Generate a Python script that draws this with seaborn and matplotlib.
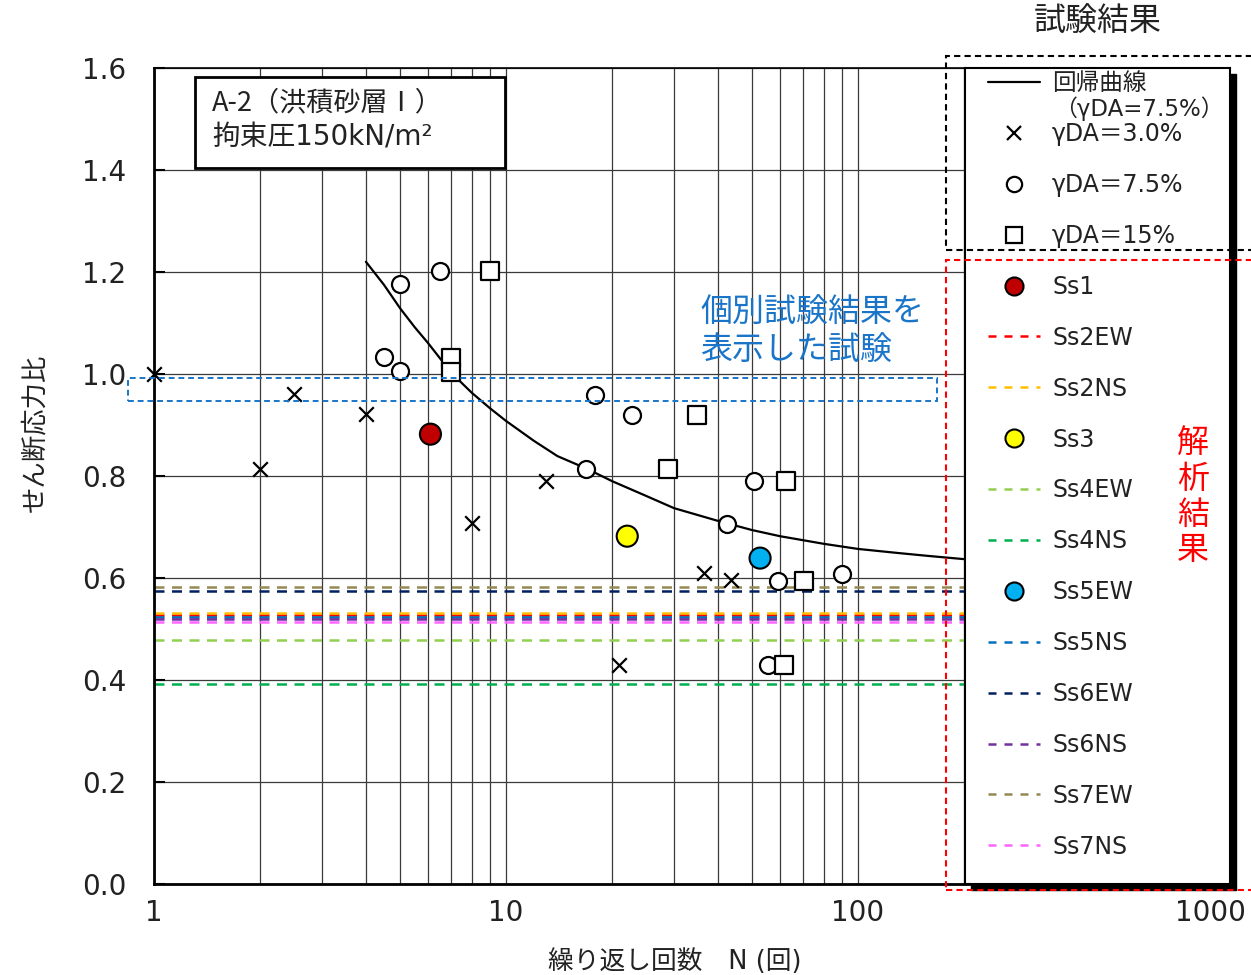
import numpy as np
import pandas as pd
import seaborn as sns
import matplotlib
matplotlib.use("Agg")
import matplotlib.pyplot as plt
from matplotlib.lines import Line2D
from matplotlib.patches import Rectangle
from matplotlib.ticker import FixedLocator, NullFormatter, LogLocator

# ---------------- data ----------------
n_da30 = [1, 2, 2.5, 4, 8, 13, 21, 36.5, 43.5]
r_da30 = [1.00, 0.814, 0.961, 0.922, 0.708, 0.790, 0.429, 0.610, 0.596]

n_da75 = [4.5, 5, 5, 6.5, 16.9, 17.9, 22.8, 42.4, 50.6, 55.5, 59.3, 90]
r_da75 = [1.033, 1.176, 1.006, 1.202, 0.814, 0.959, 0.920, 0.706, 0.790, 0.429, 0.594, 0.608]

n_da15 = [7, 7, 9, 28.9, 34.9, 61.6, 62.4, 70.3]
r_da15 = [1.031, 1.004, 1.202, 0.814, 0.920, 0.429, 0.790, 0.594]

curve_n = [4, 4.5, 5, 5.5, 6, 7, 8, 9, 10, 12, 14, 17, 20, 25, 30, 40, 50, 60, 80,
           100, 130, 160, 200]
curve_r = [1.220, 1.175, 1.129, 1.092, 1.061, 1.002, 0.963, 0.933, 0.908, 0.869, 0.839,
           0.814, 0.790, 0.761, 0.737, 0.712, 0.694, 0.682, 0.667, 0.657, 0.649, 0.643, 0.637]

pt_names = ["Ss1", "Ss3", "Ss5EW"]
pt_n = [6.1, 22.1, 52.7]
pt_r = [0.882, 0.682, 0.639]
pt_colors = ["#C00000", "#FFFF00", "#00B0F0"]

line_names = ["Ss2EW", "Ss2NS", "Ss4EW", "Ss4NS", "Ss5NS", "Ss6EW", "Ss6NS", "Ss7EW", "Ss7NS"]
line_vals = [0.528, 0.532, 0.478, 0.392, 0.524, 0.574, 0.519, 0.583, 0.514]
line_colors = ["#FF0000", "#FFC000", "#92D050", "#00B050", "#0070C0", "#002060",
               "#7030A0", "#948A54", "#FF66FF"]

legend_order = ["Ss1", "Ss2EW", "Ss2NS", "Ss3", "Ss4EW", "Ss4NS", "Ss5EW", "Ss5NS",
                "Ss6EW", "Ss6NS", "Ss7EW", "Ss7NS"]

y_ticks = [0.0, 0.2, 0.4, 0.6, 0.8, 1.0, 1.2, 1.4, 1.6]
x_ticks = [1, 10, 100, 1000]

# ---------------- style ----------------
sns.set_theme(style="white")
FAM = ["DejaVu Sans", "Noto Sans CJK JP"]
CJK_FIRST = ["Noto Sans CJK JP", "DejaVu Sans"]
plt.rcParams["font.family"] = FAM
plt.rcParams["axes.unicode_minus"] = False
TXT = "#222222"

W, H = 1251, 975
fig = plt.figure(figsize=(W / 100, H / 100), dpi=100)
ax = fig.add_axes([154 / W, 1 - 884 / H, (1210 - 154) / W, (884 - 68) / H])
ax.set_facecolor("white")

ax.set_xscale("log")
ax.set_xlim(1, 1000)
ax.set_ylim(0, 1.6)

grid_kw = dict(color="#3a3a3a", lw=0.9)
ax.xaxis.set_major_locator(FixedLocator(x_ticks))
ax.xaxis.set_minor_locator(LogLocator(base=10, subs=np.arange(2, 10)))
ax.xaxis.set_minor_formatter(NullFormatter())
ax.set_xticklabels([str(v) for v in x_ticks])
ax.set_yticks(y_ticks)
ax.set_yticklabels([f"{v:.1f}" for v in y_ticks])
ax.grid(True, which="both", axis="x", **grid_kw)
ax.grid(True, which="major", axis="y", **grid_kw)
ax.set_axisbelow(True)

ax.tick_params(axis="y", direction="in", length=8, width=1.5, pad=20,
               labelsize=20, colors="black", labelcolor=TXT, left=True)
ax.tick_params(axis="x", which="both", length=0, pad=11, labelsize=20, labelcolor=TXT)

for s in ["left", "bottom"]:
    ax.spines[s].set_color("black")
    ax.spines[s].set_linewidth(2)
ax.spines["top"].set_color("black")
ax.spines["top"].set_linewidth(1.2)
ax.spines["right"].set_visible(False)

ax.set_ylabel("せん断応力比", fontsize=19, color=TXT)
ax.yaxis.set_label_coords((35 - 154) / 1056, (884 - 433) / 816)
ax.yaxis.label.set_va("center")
ax.set_xlabel("繰り返し回数　N (回)", fontsize=18.5, color=TXT)
ax.xaxis.set_label_coords((675 - 154) / 1056, -(962 - 884) / 816)
ax.xaxis.label.set_va("center")

# analysis lines
dash = (0, (4, 3))
for name, v, c in zip(line_names, line_vals, line_colors):
    ax.axhline(v, color=c, lw=1.8, ls=dash, zorder=2)

# regression curve
sns.lineplot(x=curve_n, y=curve_r, ax=ax, color="black", lw=1.6, sort=False,
             estimator=None, zorder=3)

# test results
sns.scatterplot(x=n_da30, y=r_da30, ax=ax, marker="x", color="black", s=110,
                linewidth=1.6, zorder=4, clip_on=False)
sns.scatterplot(x=n_da75, y=r_da75, ax=ax, marker="o", color="white", edgecolor="black",
                s=150, linewidth=1.6, zorder=4)
sns.scatterplot(x=n_da15, y=r_da15, ax=ax, marker="s", color="white", edgecolor="black",
                s=165, linewidth=1.6, zorder=4)
sns.scatterplot(x=pt_n, y=pt_r, ax=ax, hue=pt_names, palette=pt_colors, marker="o",
                edgecolor="black", s=230, linewidth=1.5, zorder=5, legend=False)

# blue dashed rectangle and note
BLUE = "#1A75C9"
ax.add_patch(Rectangle((0.845, 0.947), 168 - 0.845, 0.045, fill=False, ec=BLUE,
                       lw=1.4, ls=(0, (3, 2)), clip_on=False, zorder=6))
ax.text((700 - 154) / 1056, (884 - 313) / 816, "個別試験結果を", transform=ax.transAxes,
        color=BLUE, fontsize=23, va="center", ha="left", zorder=7)
ax.text((700 - 154) / 1056, (884 - 350) / 816, "表示した試験", transform=ax.transAxes,
        color=BLUE, fontsize=23, va="center", ha="left", zorder=7)

# title box
ax.add_patch(Rectangle(((195 - 154) / 1056, (884 - 168) / 816), 310 / 1056, 91 / 816,
                       transform=ax.transAxes, fc="white", ec="black", lw=2, zorder=8))
ax.text((212 - 154) / 1056, (884 - 103) / 816, "A-2（洪積砂層Ⅰ）", transform=ax.transAxes,
        fontsize=19.5, va="center", ha="left", color=TXT, zorder=9, family=CJK_FIRST)
ax.text((212 - 154) / 1056, (884 - 137) / 816, "拘束圧150kN/m²", transform=ax.transAxes,
        fontsize=20, va="center", ha="left", color=TXT, zorder=9)

# ---------------- legend panel ----------------
fig.add_artist(Rectangle((971 / W, 1 - 890 / H), 265 / W, 816 / H, transform=fig.transFigure,
                         fc="black", ec="black", zorder=4))
lax = fig.add_axes([965 / W, 1 - 884 / H, 265 / W, 816 / H], zorder=5)
lax.set_facecolor("white")
lax.set_xticks([])
lax.set_yticks([])
for s in lax.spines.values():
    s.set_color("black")
    s.set_linewidth(1.5)

handles = [
    Line2D([], [], color="black", lw=1.6),
    Line2D([], [], ls="none", marker="x", color="black", ms=10, mew=1.6),
    Line2D([], [], ls="none", marker="o", mfc="white", mec="black", ms=11, mew=1.6),
    Line2D([], [], ls="none", marker="s", mfc="white", mec="black", ms=11, mew=1.6),
]
labels = ["回帰曲線", "γDA＝3.0%", "γDA＝7.5%", "γDA＝15%"]
for name in legend_order:
    if name in pt_names:
        c = pt_colors[pt_names.index(name)]
        handles.append(Line2D([], [], ls="none", marker="o", mfc=c, mec="black", ms=13, mew=1.5))
    else:
        c = line_colors[line_names.index(name)]
        handles.append(Line2D([], [], color=c, lw=1.8, ls=(0, (3.2, 3.2))))
    labels.append(name)

fs = 17
fpx = fs * 100 / 72
pitch_px = 50.9
text_h = 0.97 * fpx
lax.legend(handles, labels, loc="upper left",
           bbox_to_anchor=((988 - 965) / 265, 1 + (68 - 71.3) / 816),
           frameon=False, fontsize=fs, labelcolor=TXT,
           handlelength=52 / fpx, handletextpad=12 / fpx,
           labelspacing=(pitch_px - text_h) / fpx - 0.047,
           borderpad=0, borderaxespad=0)
fig.text(1054 / W, 1 - 109 / H, "（γDA=7.5%）", fontsize=16.5, color=TXT,
         va="center", ha="left", zorder=7)

# group boxes and titles
fig.add_artist(Rectangle((946 / W, 1 - 250 / H), (1262 - 946) / W, (250 - 56) / H,
                         transform=fig.transFigure, fill=False, ec="black", lw=1.5,
                         ls=(0, (3, 2)), zorder=10, clip_on=False))
fig.add_artist(Rectangle((946 / W, 1 - 890 / H), (1262 - 946) / W, (890 - 260) / H,
                         transform=fig.transFigure, fill=False, ec="#FF0000", lw=1.5,
                         ls=(0, (3, 2)), zorder=10, clip_on=False))
fig.text(1098 / W, 1 - 22 / H, "試験結果", fontsize=23, ha="center", va="center", color=TXT)
fig.text(1193 / W, 1 - 497 / H, "解\n析\n結\n果", fontsize=23, ha="center", va="center",
         color="#FF0000", linespacing=1.2, zorder=11)

fig.savefig("out.png", dpi=100, facecolor="white")
